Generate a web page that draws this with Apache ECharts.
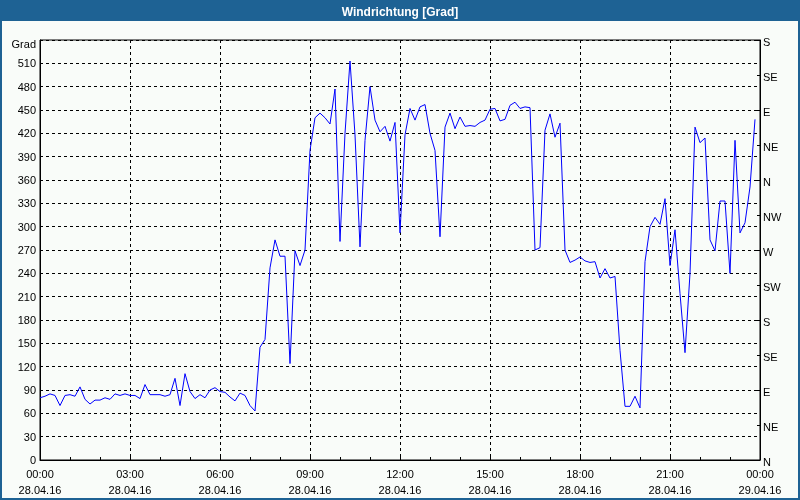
<!DOCTYPE html>
<html>
<head>
<meta charset="utf-8">
<script src="https://cdn.jsdelivr.net/npm/echarts@6/dist/echarts.min.js"></script>
<style>
html,body{margin:0;padding:0;background:#f9fcf9;}
#chart{width:800px;height:500px;}
</style>
</head>
<body>
<div id="chart"></div>
<script>
// ---- data ----
const chartTitle = 'Windrichtung [Grad]';
const yUnit = 'Grad';
const stepMinutes = 10; // sampling interval, starting 28.04.16 00:00
const windDirection = [
  80, 82, 85, 83, 70, 83, 84, 82, 94, 78, 72, 77, 77, 80, 78, 85, 83, 85,
  83, 83, 79, 97, 84, 84, 84, 82, 84, 105, 70, 111, 88, 79, 84, 80, 90, 93,
  88, 87, 81, 76, 86, 83, 70, 63, 145, 155, 247, 283, 262, 262, 124, 269, 250, 270,
  398, 440, 446, 440, 432, 477, 281, 420, 513, 418, 274, 411, 480, 437, 422, 429, 410, 434,
  292, 418, 452, 437, 454, 457, 420, 398, 287, 428, 446, 426, 441, 429, 430, 429, 434, 437,
  451, 452, 436, 438, 456, 460, 452, 454, 453, 270, 273, 424, 445, 415, 433, 270, 254, 257,
  261, 256, 254, 255, 234, 246, 234, 236, 141, 69, 69, 82, 67, 255, 300, 312, 303, 336,
  250, 296, 214, 138, 240, 428, 408, 414, 283, 269, 333, 333, 240, 411, 292, 305, 351, 438
];
const xTickTimes = ['00:00','03:00','06:00','09:00','12:00','15:00','18:00','21:00','00:00'];
const xTickDates = ['28.04.16','28.04.16','28.04.16','28.04.16','28.04.16','28.04.16','28.04.16','28.04.16','29.04.16'];
const compassLabels = ['N','NE','E','SE','S','SW','W','NW','N','NE','E','SE','S'];

// ---- chart ----
const FONT = 'Liberation Sans';
const BLUE = '#1e6294';
const chart = echarts.init(document.getElementById('chart'));
const seriesData = windDirection.map((v, i) => [i * stepMinutes, v]);

chart.setOption({
  backgroundColor: '#f9fcf9',
  animation: false,
  textStyle: { fontFamily: FONT },
  title: {
    text: chartTitle,
    left: 'center',
    top: 2,
    textStyle: { color: '#fff', fontSize: 12, fontWeight: 'bold', fontFamily: FONT }
  },
  graphic: [
    { type: 'rect', z: 0, silent: true, shape: { x: 0, y: 0, width: 800, height: 21 }, style: { fill: BLUE } },
    { type: 'rect', z: 0, silent: true, shape: { x: 1, y: 1, width: 798, height: 498 }, style: { fill: null, stroke: BLUE, lineWidth: 2 } }
  ],
  grid: {
    left: 40, right: 40, top: 40, bottom: 40,
    show: true, borderColor: '#000', borderWidth: 1, backgroundColor: 'transparent'
  },
  xAxis: {
    type: 'value', min: 0, max: 1440, interval: 180,
    axisLine: { show: true, lineStyle: { color: '#000', width: 1 } },
    axisTick: { show: true, inside: true, length: 3, lineStyle: { color: '#000' } },
    minorTick: { show: true, splitNumber: 3, length: 3, lineStyle: { color: '#000' } },
    splitLine: { show: true, lineStyle: { color: '#000', type: [3, 3], width: 1 } },
    axisLabel: {
      margin: 7, color: '#000', fontSize: 11, fontFamily: FONT, lineHeight: 16,
      showMinLabel: true, showMaxLabel: true,
      formatter: function (v) {
        const k = Math.round(v / 180);
        return xTickTimes[k] + '\n' + xTickDates[k];
      }
    }
  },
  yAxis: [
    {
      type: 'value', min: 0, max: 540, interval: 30, position: 'left',
      axisLine: { show: true, lineStyle: { color: '#000', width: 1 } },
      axisTick: { show: true, inside: true, length: 3, lineStyle: { color: '#000' } },
      splitLine: { show: true, lineStyle: { color: '#000', type: [3, 3], width: 1 } },
      axisLabel: {
        margin: 4, color: '#000', fontSize: 11, fontFamily: FONT,
        showMinLabel: true, showMaxLabel: true,
        formatter: function (v) { return v === 540 ? '{g|' + yUnit + '}' : '{n|' + v + '}'; },
        rich: {
          g: { fontSize: 11, fontFamily: FONT, color: '#000', padding: [10, 0, 0, 0] },
          n: { fontSize: 11, fontFamily: FONT, color: '#000', padding: [2, 0, 0, 0] }
        }
      }
    },
    {
      type: 'value', min: 0, max: 540, interval: 45, position: 'right',
      axisLine: { show: true, lineStyle: { color: '#000', width: 1 } },
      axisTick: { show: true, inside: true, length: 3, lineStyle: { color: '#000' } },
      splitLine: { show: false },
      axisLabel: {
        margin: 3, color: '#000', fontSize: 11, fontFamily: FONT,
        showMinLabel: true, showMaxLabel: true,
        formatter: function (v) { return '{c|' + compassLabels[Math.round(v / 45)] + '}'; },
        rich: { c: { fontSize: 11, fontFamily: FONT, color: '#000', padding: [5, 0, 0, 0] } }
      }
    }
  ],
  series: [{
    type: 'line',
    yAxisIndex: 0,
    data: seriesData,
    showSymbol: false,
    symbol: 'none',
    lineStyle: { color: '#0000ff', width: 1 },
    z: 3
  }]
});
</script>
</body>
</html>
